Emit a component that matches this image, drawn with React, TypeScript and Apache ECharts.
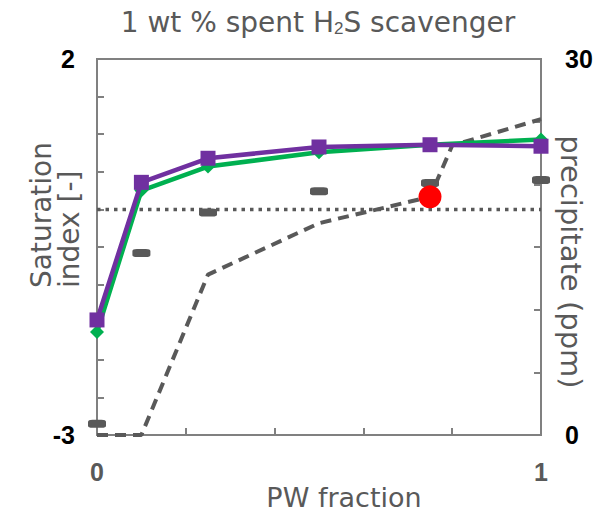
import React, { useEffect, useRef } from "react";
import * as echarts from "echarts";

const pwFraction = [0, 0.1, 0.25, 0.5, 0.75, 1];
const siPurple = [-1.47, 0.36, 0.68, 0.83, 0.86, 0.84];
const siGreen = [-1.63, 0.25, 0.57, 0.76, 0.86, 0.93];
const siMarkers = [-2.85, -0.58, -0.04, 0.24, 0.35, 0.39];
const precipX = [0, 0.1, 0.25, 0.5, 0.75, 0.8, 1];
const precipPpm = [0, 0, 12.8, 16.9, 19.0, 23.1, 25.2];
const measuredX = [0.75];
const measuredPpm = [19.0];
const zeroLineX = [0, 1];
const zeroLineY = [0, 0];

const GRAY = "#595959";
const AXIS = "#808080";

export default function App() {
  const ref = useRef<HTMLDivElement>(null);
  useEffect(() => {
    const chart = echarts.init(ref.current!, null, { renderer: "svg" });
    const pairs = (xs: number[], ys: number[]) => xs.map((x, i) => [x, ys[i]]);
    const boldLabel = (color: string) => ({
      fontFamily: "Liberation Sans, Arial, sans-serif",
      fontWeight: "bold" as const,
      fontSize: 25,
      color,
    });
    chart.setOption({
      animation: false,
      grid: {
        left: 97,
        right: 67,
        top: 59,
        bottom: 80,
        show: true,
        borderColor: AXIS,
        borderWidth: 2,
      },
      xAxis: {
        type: "value",
        min: 0,
        max: 1,
        interval: 0.2,
        splitLine: { show: false },
        axisLine: { onZero: false, lineStyle: { color: AXIS, width: 2 } },
        axisTick: { inside: true, length: 7, lineStyle: { color: AXIS, width: 2 } },
        axisLabel: {
          ...boldLabel(GRAY),
          margin: 24,
          formatter: (v: number) => (v === 0 || v === 1 ? String(v) : ""),
        },
      },
      yAxis: [
        {
          type: "value",
          min: -3,
          max: 2,
          interval: 0.5,
          splitLine: { show: false },
          axisLine: { show: true, onZero: false, lineStyle: { color: AXIS, width: 2 } },
          axisTick: { inside: true, length: 7, lineStyle: { color: AXIS, width: 2 } },
          axisLabel: {
            ...boldLabel("#000"),
            margin: 22,
            formatter: (v: number) => (v === 2 || v === -3 ? String(v) : ""),
          },
        },
        {
          type: "value",
          min: 0,
          max: 30,
          interval: 5,
          position: "right",
          splitLine: { show: false },
          axisLine: { show: true, onZero: false, lineStyle: { color: AXIS, width: 2 } },
          axisTick: { inside: true, length: 7, lineStyle: { color: AXIS, width: 2 } },
          axisLabel: {
            ...boldLabel("#000"),
            margin: 24,
            formatter: (v: number) => (v === 0 || v === 30 ? String(v) : ""),
          },
        },
      ],
      graphic: [
        {
          type: "text",
          x: 318,
          y: 22,
          style: {
            text: "1 wt % spent H{sub|2}S scavenger",
            fontFamily: "DejaVu Sans, Verdana, sans-serif",
            fontSize: 28,
            fill: GRAY,
            align: "center",
            verticalAlign: "middle",
            rich: {
              sub: { fontSize: 17, fill: GRAY, padding: [13, 0, 0, 0] },
            },
          },
        },
        {
          type: "text",
          x: 344,
          y: 497,
          style: {
            text: "PW fraction",
            fontFamily: "DejaVu Sans, Verdana, sans-serif",
            fontSize: 27,
            fill: GRAY,
            align: "center",
            verticalAlign: "middle",
          },
        },
        {
          type: "text",
          x: 55,
          y: 288,
          rotation: Math.PI / 2,
          style: {
            text: "Saturation\nindex [-]",
            fontFamily: "DejaVu Sans, Verdana, sans-serif",
            fontSize: 28,
            lineHeight: 28,
            fill: GRAY,
            align: "left",
            verticalAlign: "middle",
          },
        },
        {
          type: "text",
          x: 571,
          y: 262,
          rotation: -Math.PI / 2,
          style: {
            text: "precipitate (ppm)",
            fontFamily: "DejaVu Sans, Verdana, sans-serif",
            fontSize: 29,
            fill: GRAY,
            align: "center",
            verticalAlign: "middle",
          },
        },
      ],
      series: [
        {
          type: "line",
          data: pairs(zeroLineX, zeroLineY),
          yAxisIndex: 0,
          symbol: "none",
          lineStyle: { color: GRAY, width: 3.5, type: [3.5, 5] },
          z: 1,
        },
        {
          type: "line",
          data: pairs(precipX, precipPpm),
          yAxisIndex: 1,
          symbol: "none",
          lineStyle: { color: GRAY, width: 4, type: [11, 7] },
          z: 2,
        },
        {
          type: "scatter",
          data: pairs(pwFraction, siMarkers),
          yAxisIndex: 0,
          symbol: "roundRect",
          symbolSize: [18, 8],
          itemStyle: { color: GRAY, opacity: 1 },
          z: 3,
        },
        {
          type: "line",
          data: pairs(pwFraction, siGreen),
          yAxisIndex: 0,
          symbol: "diamond",
          symbolSize: 14,
          showAllSymbol: true,
          itemStyle: { color: "#00B050" },
          lineStyle: { color: "#00B050", width: 4.5 },
          z: 4,
        },
        {
          type: "line",
          data: pairs(pwFraction, siPurple),
          yAxisIndex: 0,
          symbol: "rect",
          symbolSize: 15,
          showAllSymbol: true,
          itemStyle: { color: "#7030A0" },
          lineStyle: { color: "#7030A0", width: 4.5 },
          z: 5,
        },
        {
          type: "scatter",
          data: pairs(measuredX, measuredPpm),
          yAxisIndex: 1,
          symbol: "circle",
          symbolSize: 23,
          itemStyle: { color: "#FF0000", opacity: 1 },
          z: 6,
        },
      ],
    });
    return () => chart.dispose();
  }, []);
  return (
    <div
      ref={ref}
      style={{ position: "absolute", left: 0, top: 0, width: 608, height: 515 }}
    />
  );
}
